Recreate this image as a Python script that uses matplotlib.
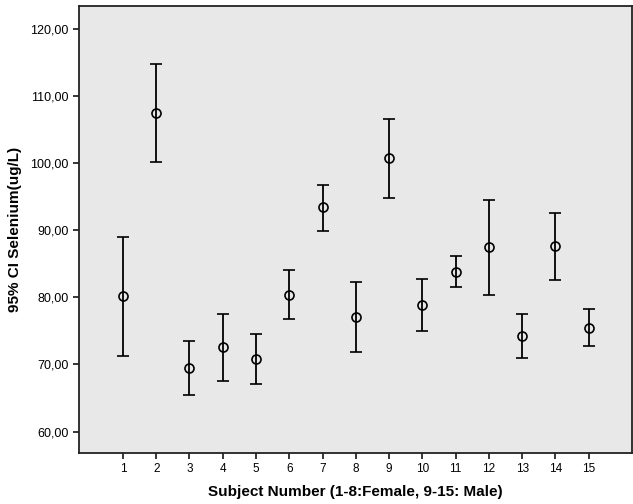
import matplotlib
matplotlib.use("Agg")
import matplotlib.pyplot as plt
import numpy as np

plt.rcParams["font.family"] = ["Liberation Sans", "DejaVu Sans"]

# Subject means and 95% CI bounds (ug/L)
subjects = list(range(1, 16))
means = [80.2, 107.45, 69.5, 72.6, 70.8, 80.4, 93.4, 77.05, 100.7, 78.8, 83.75, 87.5, 74.25, 87.6, 75.45]
upper = [89.05, 114.8, 73.55, 77.5, 74.55, 84.1, 96.75, 82.3, 106.6, 82.7, 86.1, 94.5, 77.5, 92.55, 78.2]
lower = [71.3, 100.1, 65.5, 67.6, 67.1, 76.75, 89.95, 71.8, 94.8, 74.95, 81.5, 80.4, 71.0, 82.65, 72.7]

yticks = [60, 70, 80, 90, 100, 110, 120]

fig = plt.figure(figsize=(6.33, 5.04), dpi=100)
ax = fig.add_axes([79 / 633, 51 / 504, 553 / 633, 447 / 504])
ax.set_facecolor("#e8e8e8")

means = np.array(means)
err = [means - np.array(lower), np.array(upper) - means]
ax.errorbar(subjects, means, yerr=err, fmt="o", markersize=6.5,
            markerfacecolor="none", markeredgecolor="black", markeredgewidth=1.2,
            ecolor="black", elinewidth=1.3, capsize=4, capthick=1.3)

ax.set_xlim(-0.32, 16.3)
ax.set_ylim(56.8, 123.4)
ax.set_xticks(subjects)
ax.set_xticklabels([str(s) for s in subjects], fontsize=8.5)
ax.set_yticks(yticks)
ax.set_yticklabels([f"{v:.2f}".replace(".", ",") for v in yticks], fontsize=9)
ax.tick_params(direction="out", length=4, width=1.1, color="black")

for s in ax.spines.values():
    s.set_color("#222222")
    s.set_linewidth(1.3)

ax.set_xlabel("Subject Number (1-8:Female, 9-15: Male)", fontsize=11,
              fontweight="bold", labelpad=7)
ax.set_ylabel("95% CI Selenium(ug/L)", fontsize=11, fontweight="bold", labelpad=6)

fig.savefig("out.png", dpi=100)
